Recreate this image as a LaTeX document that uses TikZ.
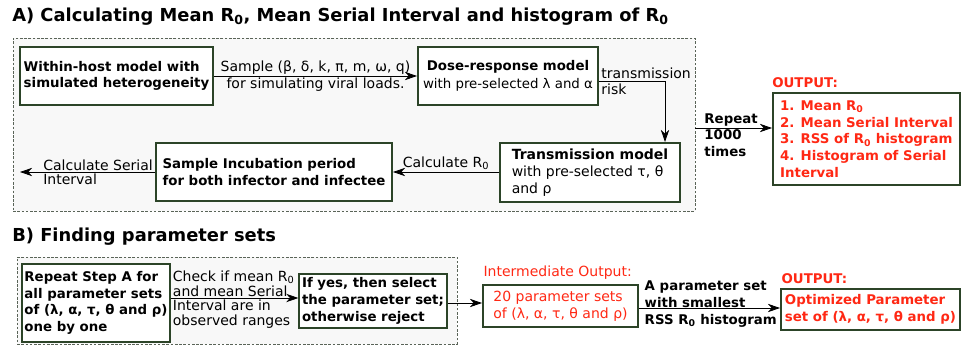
\documentclass[tikz,border=0pt]{standalone}
\usepackage{fontspec}
\setmainfont{DejaVu Sans}
\usetikzlibrary{arrows.meta, positioning, fit}

\definecolor{boxgreen}{RGB}{44,68,40}
\definecolor{framegray}{RGB}{90,100,88}
\definecolor{framefill}{RGB}{248,248,248}
\definecolor{outred}{RGB}{255,40,20}

\begin{document}
\begin{tikzpicture}[
    x=0.75pt, y=-0.75pt,
    every node/.style={font=\fontsize{10.5}{12.5}\selectfont, align=left, inner sep=2pt},
    title/.style={font=\fontsize{13.4}{15}\selectfont\bfseries, anchor=west, inner sep=0pt},
    frame/.style={
        draw=framegray,
        fill=framefill,
        line width=0.6pt,
        dash pattern=on 2pt off 1.2pt,
        inner sep=0pt
    },
    box/.style={
        draw=boxgreen,
        fill=white,
        line width=1.5pt,
        inner sep=2pt
    },
    bold/.style={font=\fontsize{10}{12.5}\selectfont\bfseries},
    redbold/.style={font=\fontsize{10}{12.5}\selectfont\bfseries, text=outred},
    arrow/.style={
        -{Stealth[length=3.2mm, width=2.2mm, inset=1mm]},
        line width=0.6pt
    }
]
\useasboundingbox (0,0) rectangle (962,346);

% --- A) ---
\node[title] (titleA) at (12,17) {A) Calculating Mean R\textsubscript{0}, Mean Serial Interval and histogram of R\textsubscript{0}};

\coordinate (aNW) at (13,38);
\coordinate (aSE) at (695,211);
\node[frame, fit=(aNW)(aSE)] (frameA) {};

\node[box, bold, minimum width=144.75pt, minimum height=43.5pt] (within) at (116.5,76)
{Within-host model with\\simulated heterogeneity};

\node[box, align=center, font=\fontsize{10}{13.5}\selectfont, minimum width=135pt, minimum height=43.5pt] (dose) at (508,76)
{\textbf{Dose-response model}\\with pre-selected λ and α};

\node[box, minimum width=135pt, minimum height=44.25pt] (trans) at (590,172.5)
{\textbf{Transmission model}\\ with pre-selected τ, θ\\ and ρ};

\node[box, bold, minimum width=177pt, minimum height=43.5pt] (incub) at (274,172)
{Sample Incubation period\\for both infector and infectee};

\node[box, redbold, minimum width=140.25pt, minimum height=69pt] (outA) at (866.5,139)
{1. Mean R\textsubscript{0}\\2. Mean Serial Interval\\3. RSS of R\textsubscript{0} histogram\\4. Histogram of Serial\\Interval};
\node[redbold, above right=1pt and -2pt of outA.north west] (outAlabel) {OUTPUT:};

\draw[arrow] (within) -- (dose)
    node[midway, above, inner sep=1pt] {Sample (β, δ, k, π, m, ω, q)}
    node[midway, below, inner sep=1pt] {for simulating viral loads.};

\draw[arrow] ([yshift=-3.75pt]dose.east) -| ([xshift=-12pt]trans.north east)
    node[pos=0, anchor=south west, inner sep=1.5pt] {transmission}
    node[pos=0, anchor=north west, inner sep=1.5pt] {risk};

\draw[arrow] (trans.west |- incub.east) -- (incub.east)
    node[midway, above, inner sep=1.5pt] {Calculate R\textsubscript{0}};

\coordinate (serialEnd) at (20,172);
\draw[arrow] (incub.west) -- (serialEnd)
    node[pos=0.84, anchor=south west, inner sep=1pt] {Calculate Serial}
    node[pos=0.84, anchor=north west, inner sep=1pt] {Interval};

\coordinate (repeatStart) at (695,128);
\draw[arrow] (repeatStart) -- (repeatStart -| outA.west)
    node[pos=0.1, anchor=south west, bold, inner sep=1pt] {Repeat}
    node[pos=0.1, anchor=north west, bold, inner sep=1pt] {1000\\times};

% --- B) ---
\node[title] (titleB) at (12,237) {B) Finding parameter sets};

\coordinate (bNW) at (17,257);
\coordinate (bSE) at (457,344);
\node[frame, fit=(bNW)(bSE)] (frameB) {};

\node[box, bold, minimum width=111pt, minimum height=58.5pt] (stepA) at (96,303)
{Repeat Step A for\\all parameter sets\\of (λ, α, τ, θ and ρ)\\one by one};

\node[box, bold, minimum width=105pt, minimum height=40.5pt] (select) at (373,301)
{If yes, then select\\the parameter set;\\otherwise reject};

\node[box, text=outred, minimum width=116.25pt, minimum height=31.5pt] (inter) at (560.5,306)
{20 parameter sets\\of (λ, α, τ, θ and ρ)};
\node[text=outred, above right=1pt and -1pt of inter.north west] (interlabel) {Intermediate Output:};

\node[box, redbold, minimum width=134.25pt, minimum height=30.75pt] (outB) at (870.5,309.5)
{Optimized Parameter\\set of (λ, α, τ, θ and ρ)};
\node[redbold, above right=1pt and -1pt of outB.north west] (outBlabel) {OUTPUT:};

\draw[arrow] (stepA.east |- 0,298) -- (select.west |- 0,298)
    node[pos=0, anchor=south west, inner sep=1pt, font=\fontsize{10.5}{11}\selectfont] {Check if mean R\textsubscript{0}\\and mean Serial}
    node[pos=0, anchor=north west, inner sep=1pt, font=\fontsize{10.5}{11}\selectfont] {Interval are in\\observed ranges};

\draw[arrow] (select.east |- 0,303) -- (inter.west |- 0,303);

\draw[arrow] (inter.east |- 0,308) -- (outB.west |- 0,308)
    node[pos=0, anchor=west, xshift=3pt, yshift=3pt, bold, inner sep=1pt] {A parameter set\\with smallest\\RSS R\textsubscript{0} histogram};

\end{tikzpicture}
\end{document}
